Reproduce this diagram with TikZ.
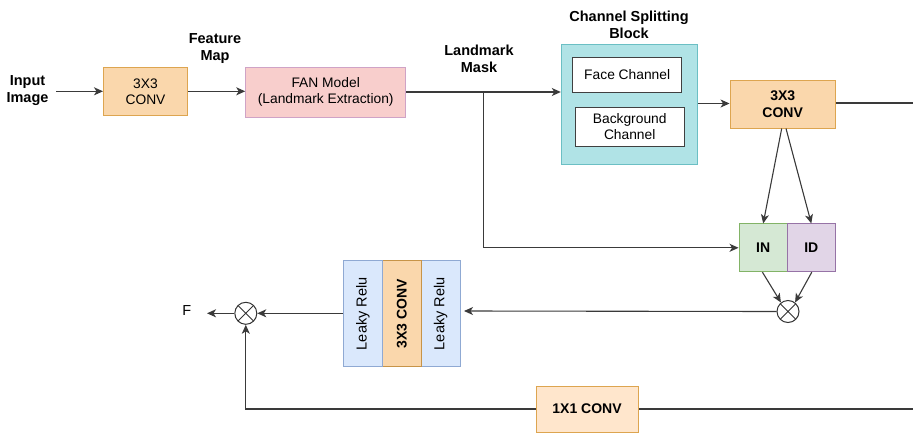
\documentclass[tikz,border=0pt]{standalone}
\usepackage{fontspec}
\setmainfont{Liberation Sans}
\usetikzlibrary{arrows.meta}

\definecolor{wirec}{HTML}{3A3A3A}
\definecolor{orfill}{HTML}{FAD7AC}
\definecolor{orline}{HTML}{DDA550}
\definecolor{ltorfill}{HTML}{FFE6CC}
\definecolor{pinkfill}{HTML}{F8CECC}
\definecolor{pinkline}{HTML}{CFA3C6}
\definecolor{tealfill}{HTML}{B0E3E6}
\definecolor{tealline}{HTML}{6BBFC4}
\definecolor{grnfill}{HTML}{D5E8D4}
\definecolor{grnline}{HTML}{82B366}
\definecolor{purfill}{HTML}{E1D5E7}
\definecolor{purline}{HTML}{9673A6}
\definecolor{blufill}{HTML}{DAE8FC}
\definecolor{bluline}{HTML}{8FA9D3}

\begin{document}
\begin{tikzpicture}[x=1pt,y=-1pt,
  font=\fontsize{13.8}{16}\selectfont,
  blk/.style={draw, line width=1pt, align=center, inner sep=0pt},
  orbox/.style={blk, fill=orfill, draw=orline},
  whitebox/.style={blk, fill=white, draw=black!75},
  bluebox/.style={blk, fill=blufill, draw=bluline, minimum width=105.7pt, minimum height=39pt, rotate=90,
    font=\fontsize{14.5}{16}\selectfont},
  lbl/.style={font=\fontsize{14.5}{17}\selectfont\bfseries, align=center, inner sep=1pt},
  bf/.style={font=\fontsize{14}{16.5}\selectfont\bfseries},
  wire/.style={draw=wirec, line width=1.1pt},
  arr/.style={wire, -{Stealth[length=9pt, width=8pt, inset=2.5pt]}},
  mulop/.style={circle, draw=black!80, line width=1pt, minimum size=22pt, inner sep=0pt,
    path picture={\draw[line width=0.9pt, black!80]
      (path picture bounding box.north west) -- (path picture bounding box.south east)
      (path picture bounding box.north east) -- (path picture bounding box.south west);}}
]
\useasboundingbox (0,0) rectangle (913,434);

% --- top row: input, conv, landmark extraction ---
\node[lbl] (inp) at (27.5,91) {Input\\Image};
\node[orbox, minimum width=84pt, minimum height=48pt] (c1) at (145.5,91.5) {3X3\\CONV};
\node[lbl] (fm) at (215,49) {Feature\\Map};
\node[blk, fill=pinkfill, draw=pinkline, minimum width=160pt, minimum height=50pt] (fan) at (325.7,92) {FAN Model\\(Landmark Extraction)};
\node[lbl] (lm) at (479,58.5) {Landmark\\Mask};

% --- channel splitting block ---
\node[blk, fill=tealfill, draw=tealline, minimum width=136.4pt, minimum height=120pt] (csb) at (629.5,104) {};
\node[lbl] (csbt) at (629,24.5) {Channel Splitting\\Block};
\node[whitebox, minimum width=109pt, minimum height=35.4pt] (face) at (627.2,75) {Face Channel};
\node[whitebox, minimum width=108.7pt, minimum height=39.4pt] (bg) at (629.7,127) {Background\\Channel};

\node[orbox, bf, minimum width=105.3pt, minimum height=48pt] (c2) at (782.7,104) {3X3\\CONV};

% --- normalisation pair ---
\node[blk, bf, fill=grnfill, draw=grnline, minimum width=48.3pt, minimum height=47.7pt] (in) at (763.2,247.8) {IN};
\node[blk, bf, fill=purfill, draw=purline, minimum width=48pt, minimum height=47.7pt] (id) at (811.3,247.8) {ID};
\node[mulop] (m1) at (788,311.5) {};

% --- activation / conv stack ---
\node[bluebox] (lrB) at (440.5,313.8) {Leaky Relu};
\node[bluebox, fill=orfill, draw=orline!90!black, bf] (c3) at (401.7,313.8) {3X3 CONV};
\node[bluebox] (lrA) at (362.8,313.8) {Leaky Relu};

\node[mulop] (m2) at (245.8,313.3) {};
\node[inner sep=1pt, font=\fontsize{14.5}{16}\selectfont] (fout) at (186.7,311) {F};

\node[blk, bf, fill=ltorfill, draw=orline, minimum width=102pt, minimum height=46pt] (c4) at (587,409) {1X1 CONV};

% free ends
\coordinate (re1) at (913,103);
\coordinate (re2) at (913,409);
\coordinate (br) at (483.3,92);
\coordinate (ftip) at (207,313.3);
\coordinate (lrin) at (464,311);

% --- connectors ---
\draw[arr] (56,91.3) -- (c1.west |- 0,91.3);
\draw[arr] (c1.east |- 0,91.3) -- (fan.west |- 0,91.3);
\draw[arr] (fan.east |- br) -- (csb.west |- br);
\draw[arr] (br) |- (in.west);
\draw[arr] (csb.east |- 0,103.5) -- (c2.west |- 0,103.5);
\draw[wire] (c2.east |- re1) -- (re1);
\draw[arr] ([xshift=-1pt]c2.south) -- (in.north);
\draw[arr] ([xshift=3.3pt]c2.south) -- (id.north);
\draw[arr] ([xshift=-0.8pt]in.south) -- (m1.128);
\draw[arr] ([xshift=0.5pt]id.south) -- (m1.52);
\draw[arr] (m1.west) -- (lrin);
\draw[arr] (lrA.north |- m2.east) -- (m2.east);
\draw[arr] (m2.west) -- (ftip);
\draw[wire] (re2) -- (c4.east);
\draw[arr] (c4.west) -| (m2.south);
\end{tikzpicture}
\end{document}
